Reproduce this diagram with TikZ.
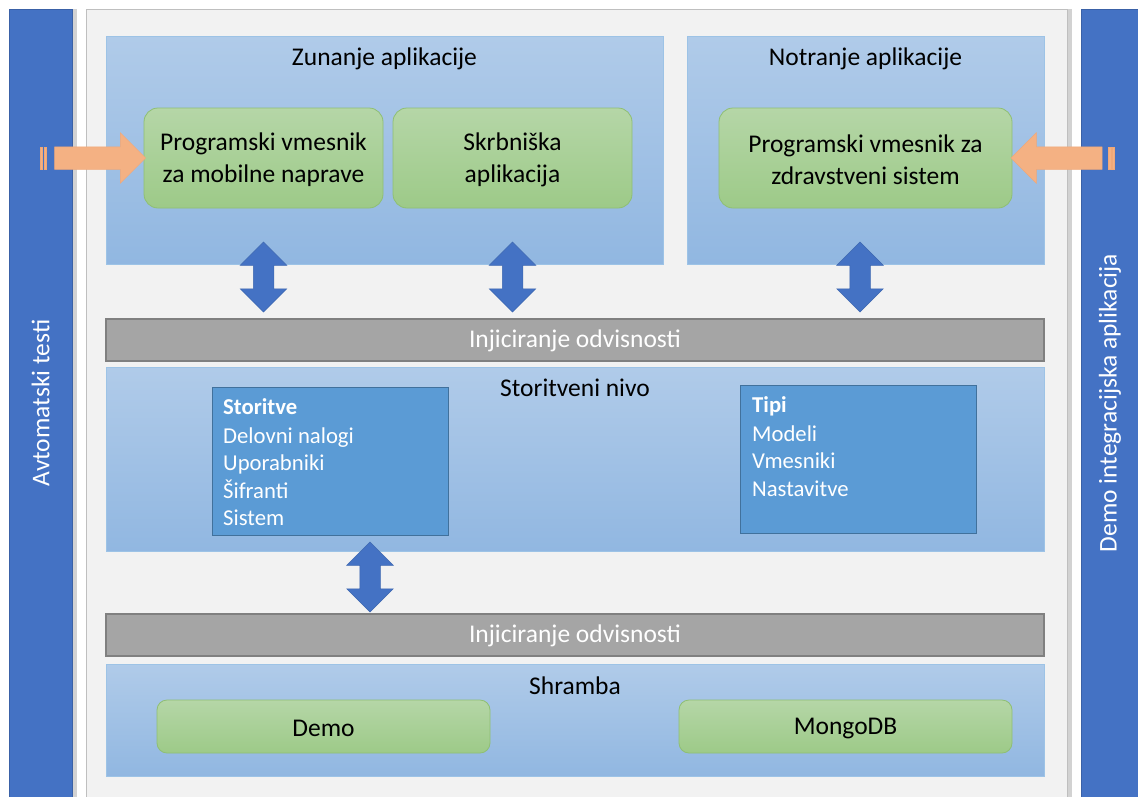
\documentclass[tikz,border=0pt]{standalone}
\usepackage{fontspec}
\setmainfont{Carlito}
\usetikzlibrary{shapes.arrows,shadows}
\definecolor{barblue}{HTML}{4472C4}
\definecolor{panelbg}{HTML}{F2F2F2}
\definecolor{panelline}{HTML}{BFBFBF}
\definecolor{lbtop}{HTML}{B0CBE9}
\definecolor{lbbot}{HTML}{91B7E1}
\definecolor{lbline}{HTML}{9DC3E6}
\definecolor{grtop}{HTML}{B5D6A7}
\definecolor{grbot}{HTML}{9DCA88}
\definecolor{grline}{HTML}{8FBF73}
\definecolor{bandfill}{HTML}{A5A5A5}
\definecolor{bandline}{HTML}{808080}
\definecolor{inbox}{HTML}{5B9BD5}
\definecolor{inline}{HTML}{41719C}
\definecolor{orfill}{HTML}{F4B183}
\definecolor{orline}{HTML}{F0A878}
\newcommand{\topstrut}{\rule{0pt}{21.5pt}}
\tikzset{
  sidebar/.style={draw=barblue!85!black, fill=barblue, line width=0.6pt, inner sep=0pt,
    drop shadow={shadow xshift=5pt, shadow yshift=0pt, opacity=0.35}},
  panel/.style={draw=panelline, fill=panelbg, line width=1pt, inner sep=0pt,
    drop shadow={shadow xshift=5pt, shadow yshift=0pt, opacity=0.35}},
  layer/.style={draw=lbline, top color=lbtop, bottom color=lbbot, line width=0.8pt, inner sep=0pt},
  greenbox/.style={draw=grline, top color=grtop, bottom color=grbot, line width=0.8pt,
    rounded corners=14pt, inner sep=0pt, align=center,
    font=\fontsize{25.5}{32}\selectfont, text=black},
  band/.style={draw=bandline, fill=bandfill, line width=1.2pt, inner sep=0pt,
    font=\fontsize{25.5}{30}\selectfont, text=white, text height=17pt, text depth=2pt},
  listbox/.style={draw=inline, fill=inbox, line width=0.8pt, inner sep=0pt},
  title/.style={font=\fontsize{25.5}{30}\selectfont, text=black, inner sep=0pt,
    text height=17pt, text depth=5pt},
  item/.style={font=\fontsize{22.7}{27}\selectfont, text=white, inner sep=0pt, anchor=west,
    text height=15pt, text depth=4pt},
  vtext/.style={font=\fontsize{25.5}{30}\selectfont, text=white, rotate=90, inner sep=0pt},
  darrow/.style={double arrow, shape border rotate=90, fill=barblue, draw=barblue!90!black,
    line width=0.5pt, inner sep=10pt, minimum height=70pt, double arrow head extend=13pt},
  oarrow/.style={single arrow, fill=orfill, draw=orline, line width=0.5pt,
    inner sep=11pt, single arrow head extend=14pt},
  stripe/.style={fill=orfill, draw=orline, line width=0.4pt, inner sep=0pt,
    minimum height=22pt}
}
\begin{document}
\begin{tikzpicture}[x=1pt,y=-1pt]
\useasboundingbox (0,0) rectangle (1138,796);
\fill[white] (0,0) rectangle (1138,796);

% side bars and main panel
\node[sidebar, minimum width=63pt, minimum height=800pt] (leftbar) at (40.5,409) {};
\node[sidebar, minimum width=60pt, minimum height=800pt] (rightbar) at (1111,409) {};
\node[panel, minimum width=981pt, minimum height=800pt] (main) at (576.5,409) {};
\node[vtext] (lefttext) at (40.5,403) {Avtomatski testi};
\node[vtext] (righttext) at (1110,403) {Demo integracijska aplikacija};

% top layer
\node[layer, minimum width=557pt, minimum height=228pt] (zun) at (384.5,150) {};
\node[layer, minimum width=357pt, minimum height=228pt] (notr) at (865.5,150) {};
\node[title] (zuntitle) at (384.5,59) {Zunanje aplikacije};
\node[title] (notrtitle) at (865.5,59) {Notranje aplikacije};
\node[greenbox, minimum width=239pt, minimum height=100pt] (mob) at (263.5,158)
  {\topstrut Programski vmesnik\\za mobilne naprave};
\node[greenbox, minimum width=239pt, minimum height=100pt] (skrb) at (512.5,158)
  {\topstrut Skrbniška\\aplikacija};
\node[greenbox, minimum width=293pt, minimum height=100pt] (zdr) at (865.5,158)
  {\topstrut Programski vmesnik za\\zdravstveni sistem};

% orange arrows
\node[oarrow, minimum height=91pt] (oleft) at (94.5,158) {};
\node[stripe, minimum width=1.5pt] (ol1) at (41.3,158) {};
\node[stripe, minimum width=2.5pt] (ol2) at (45,158) {};
\node[oarrow, shape border rotate=180, minimum height=91pt] (oright) at (1062.2,158) {};
\node[stripe, minimum width=2.5pt] (or1) at (1109.5,158) {};
\node[stripe, minimum width=1.5pt] (or2) at (1113.3,158) {};

% first injection band
\node[band, minimum width=938pt, minimum height=42pt] (band1) at (575,340) {Injiciranje odvisnosti};
\node[darrow] (da1) at (263.5,277) {};
\node[darrow] (da2) at (512.5,277) {};
\node[darrow] (da3) at (860,277) {};

% service layer
\node[layer, minimum width=938pt, minimum height=184pt] (stor) at (575,459) {};
\node[title] (stortitle) at (575,390) {Storitveni nivo};
\node[listbox, minimum width=236pt, minimum height=148pt] (storitve) at (330,461) {};
\node[item, font=\bfseries\fontsize{22.7}{27}\selectfont] (s0) at (223,409) {Storitve};
\node[item] (s1) at (223,438) {Delovni nalogi};
\node[item] (s2) at (223,465) {Uporabniki};
\node[item] (s3) at (223,493) {Šifranti};
\node[item] (s4) at (223,520) {Sistem};
\node[listbox, minimum width=236pt, minimum height=148pt] (tipi) at (858,459) {};
\node[item, font=\bfseries\fontsize{22.7}{27}\selectfont] (t0) at (752,407) {Tipi};
\node[item] (t1) at (752,436) {Modeli};
\node[item] (t2) at (752,463) {Vmesniki};
\node[item] (t3) at (752,491) {Nastavitve};

% second injection band
\node[darrow] (da4) at (370,577) {};
\node[band, minimum width=938pt, minimum height=42pt] (band2) at (575,635) {Injiciranje odvisnosti};

% storage layer
\node[layer, minimum width=938pt, minimum height=112pt] (shr) at (575,720) {};
\node[title] (shrtitle) at (575,688) {Shramba};
\node[greenbox, minimum width=333pt, minimum height=53pt, rounded corners=10pt] (demo) at (323.5,726.5) {\rule{0pt}{20pt}Demo};
\node[greenbox, minimum width=333pt, minimum height=53pt, rounded corners=10pt] (mongo) at (845.5,726.5) {\rule{0pt}{20pt}MongoDB};
\end{tikzpicture}
\end{document}
